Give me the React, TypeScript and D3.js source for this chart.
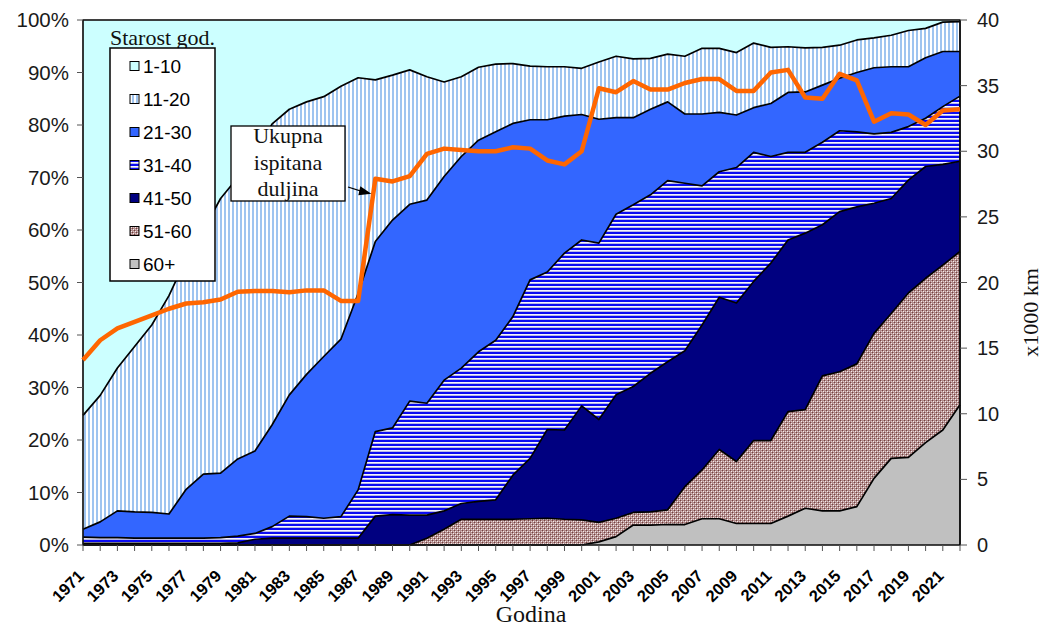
import React from "react";
import * as d3 from "d3";

// ---------- DATA ----------
const years = [
  1971, 1972, 1973, 1974, 1975, 1976, 1977, 1978, 1979, 1980,
  1981, 1982, 1983, 1984, 1985, 1986, 1987, 1988, 1989, 1990,
  1991, 1992, 1993, 1994, 1995, 1996, 1997, 1998, 1999, 2000,
  2001, 2002, 2003, 2004, 2005, 2006, 2007, 2008, 2009, 2010,
  2011, 2012, 2013, 2014, 2015, 2016, 2017, 2018, 2019, 2020,
  2021, 2022,
];

// share of tested length by age group (%)
const age60plus = [
  0, 0, 0, 0, 0, 0, 0, 0, 0, 0,
  0, 0, 0, 0, 0, 0, 0, 0, 0, 0,
  0, 0, 0, 0, 0, 0, 0, 0, 0, 0,
  0.6, 1.6, 3.8, 3.8, 3.9, 3.9, 5.0, 5.0, 4.1, 4.1,
  4.1, 5.5, 7.0, 6.5, 6.5, 7.3, 12.7, 16.5, 16.7, 19.5,
  21.9, 26.7,
];
const age51to60 = [
  0, 0, 0, 0, 0, 0, 0, 0, 0, 0,
  0, 0, 0, 0, 0, 0, 0, 0, 0, 0,
  1.3, 3.0, 4.9, 4.9, 4.9, 4.9, 5.0, 5.1, 4.9, 4.8,
  3.7, 3.5, 2.4, 2.5, 2.8, 7.2, 9.3, 13.2, 11.8, 15.8,
  15.8, 19.9, 18.8, 25.7, 26.5, 27.2, 27.6, 27.6, 31.3, 31.3,
  31.4, 29.2,
];
const age41to50 = [
  0.3, 0.3, 0.3, 0.3, 0.3, 0.3, 0.3, 0.3, 0.3, 0.4,
  1.1, 1.3, 1.3, 1.3, 1.3, 1.3, 1.3, 5.5, 5.8, 5.7,
  4.4, 3.5, 3.0, 3.4, 3.7, 8.4, 11.5, 16.9, 17.0, 21.7,
  19.6, 23.5, 24.0, 26.4, 28.2, 25.9, 27.6, 29.0, 30.2, 30.3,
  33.8, 32.7, 33.6, 28.8, 30.5, 29.9, 24.8, 21.9, 21.5, 21.3,
  19.2, 17.2,
];
const age31to40 = [
  1.2, 1.1, 1.1, 1.0, 1.0, 1.0, 1.0, 1.0, 1.1, 1.3,
  1.1, 2.2, 4.2, 4.1, 3.8, 4.1, 9.2, 16.1, 16.5, 21.7,
  21.3, 24.9, 25.8, 28.5, 30.4, 30.2, 34.0, 30.0, 33.7, 31.6,
  33.6, 34.4, 34.6, 34.0, 34.5, 31.9, 26.5, 23.9, 25.8, 24.6,
  20.3, 16.7, 15.4, 15.7, 15.4, 14.3, 13.2, 12.6, 10.2, 9.2,
  11.0, 12.4,
];
const age21to30 = [
  1.5, 3.0, 5.1, 5.0, 4.9, 4.6, 9.3, 12.2, 12.3, 14.7,
  15.7, 19.4, 23.1, 27.1, 30.8, 33.8, 37.4, 36.2, 39.6, 37.5,
  38.7, 38.8, 40.3, 40.3, 39.7, 36.8, 30.5, 29.0, 26.1, 23.9,
  23.6, 18.4, 16.6, 16.3, 15.0, 13.2, 13.7, 11.3, 10.0, 8.5,
  10.1, 11.4, 11.5, 10.9, 10.0, 11.3, 12.6, 12.5, 11.4, 11.5,
  10.5, 8.5,
];
const age11to20 = [
  21.7, 24.1, 27.2, 31.5, 35.7, 41.6, 43.9, 46.5, 52.3, 53.6,
  56.6, 57.3, 54.4, 51.9, 49.5, 48.2, 41.1, 30.8, 27.6, 25.6,
  23.5, 18.0, 15.2, 13.9, 12.9, 11.4, 10.2, 10.1, 9.4, 8.8,
  10.9, 11.7, 11.2, 9.7, 9.1, 11.0, 12.5, 12.2, 11.9, 12.3,
  10.7, 8.7, 8.4, 7.2, 6.3, 6.2, 5.7, 6.0, 6.9, 5.6,
  5.6, 5.7,
];
const age1to10 = [
  75.3, 71.5, 66.3, 62.2, 58.1, 52.5, 45.5, 40.0, 34.0, 30.0,
  25.5, 19.8, 17.0, 15.6, 14.6, 12.6, 11.0, 11.4, 10.5, 9.5,
  10.8, 11.8, 10.8, 9.0, 8.4, 8.3, 8.8, 8.9, 8.9, 9.2,
  8.0, 6.9, 7.4, 7.3, 6.5, 6.9, 5.4, 5.4, 6.2, 4.4,
  5.2, 5.1, 5.3, 5.2, 4.8, 3.8, 3.4, 2.9, 2.0, 1.6,
  0.4, 0.3,
];
// total tested length (x1000 km), right axis
const totalLength = [
  14.1, 15.6, 16.5, 17.0, 17.5, 18.0, 18.4, 18.5, 18.7, 19.3,
  19.35, 19.35, 19.25, 19.4, 19.4, 18.6, 18.6, 27.9, 27.7, 28.1,
  29.8, 30.2, 30.1, 30.0, 30.0, 30.3, 30.2, 29.3, 29.0, 30.0,
  34.8, 34.5, 35.35, 34.7, 34.7, 35.2, 35.5, 35.5, 34.6, 34.6,
  36.0, 36.2, 34.1, 34.0, 35.9, 35.4, 32.25, 32.9, 32.8, 32.0,
  33.1, 33.2,
];

const stackKeys = ["60+", "51-60", "41-50", "31-40", "21-30", "11-20", "1-10"];
const legendKeys = ["1-10", "11-20", "21-30", "31-40", "41-50", "51-60", "60+"];
const pctTicks = [0, 10, 20, 30, 40, 50, 60, 70, 80, 90, 100];
const kmTicks = [0, 5, 10, 15, 20, 25, 30, 35, 40];
const legendTitle = "Starost god.";
const annotationLines = ["Ukupna", "ispitana", "duljina"];
const annotationYear = 1988;
const xTitle = "Godina";
const yRightTitle = "x1000 km";

const seriesByKey: Record<string, number[]> = {
  "60+": age60plus,
  "51-60": age51to60,
  "41-50": age41to50,
  "31-40": age31to40,
  "21-30": age21to30,
  "11-20": age11to20,
  "1-10": age1to10,
};

const fills: Record<string, string> = {
  "60+": "#C0C0C0",
  "51-60": "url(#pat51)",
  "41-50": "#000080",
  "31-40": "url(#pat31)",
  "21-30": "#3366FF",
  "11-20": "url(#pat11)",
  "1-10": "#CCFFFF",
};

const W = 1047;
const H = 628;
const PL = 83;
const PR = 960;
const PT = 20;
const PB = 545;

const SANS = "'Liberation Sans', Arial, sans-serif";
const SERIF = "'Liberation Serif', 'Times New Roman', serif";

export default function App() {
  const x = d3.scaleLinear().domain([years[0], years[years.length - 1]]).range([PL, PR]);
  const y = d3.scaleLinear().domain([0, 100]).range([PB, PT]);
  const y2 = d3.scaleLinear().domain([0, 40]).range([PB, PT]);

  const table = years.map((yr, i) => {
    const row: any = { year: yr };
    stackKeys.forEach((k) => (row[k] = seriesByKey[k][i]));
    return row;
  });
  const stacked = d3.stack<any>().keys(stackKeys)(table);

  const area = d3
    .area<any>()
    .x((d) => x(d.data.year))
    .y0((d) => y(d[0]))
    .y1((d) => y(d[1]));
  const topLine = d3
    .line<any>()
    .x((d) => x(d.data.year))
    .y((d) => y(d[1]));
  const kmLine = d3
    .line<number>()
    .x((_, i) => x(years[i]))
    .y((d) => y2(d));

  const labelYears = years.filter((_, i) => i % 2 === 0);

  const annIdx = years.indexOf(annotationYear);
  const arrowEndX = x(annotationYear) - 4;
  const arrowEndY = y2(totalLength[annIdx]) + 15;

  return (
    <svg
      width={W}
      height={H}
      style={{ position: "absolute", left: 0, top: 0, background: "#fff" }}
    >
      <defs>
        <pattern id="pat11" width="4" height="4" patternUnits="userSpaceOnUse">
          <rect width="4" height="4" fill="#ffffff" />
          <rect width="2" height="4" fill="#9EC4F0" />
        </pattern>
        <pattern id="pat31" width="4" height="4" patternUnits="userSpaceOnUse">
          <rect width="4" height="4" fill="#F4F4FF" />
          <rect width="4" height="2" fill="#0B0BF2" />
          <rect y="3" width="4" height="1" fill="#B8B8E6" />
        </pattern>
        <pattern id="pat51" width="4" height="4" patternUnits="userSpaceOnUse">
          <rect width="4" height="4" fill="#B08A8A" />
          <rect x="0" y="0" width="1" height="1" fill="#74403F" />
          <rect x="2" y="2" width="1" height="1" fill="#74403F" />
          <rect x="1" y="1" width="1" height="1" fill="#F6EEEE" />
          <rect x="3" y="3" width="1" height="1" fill="#F6EEEE" />
          <rect x="3" y="1" width="1" height="1" fill="#DCC6C6" />
          <rect x="1" y="3" width="1" height="1" fill="#DCC6C6" />
        </pattern>
      </defs>

      {/* stacked areas */}
      {stacked.map((s) => (
        <path key={"a" + s.key} d={area(s) || ""} fill={fills[s.key]} stroke="none" />
      ))}
      {stacked.map((s) => (
        <path
          key={"l" + s.key}
          d={topLine(s) || ""}
          fill="none"
          stroke="#000"
          strokeWidth={1.7}
          strokeLinejoin="round"
        />
      ))}

      {/* plot frame */}
      <rect x={PL} y={PT} width={PR - PL} height={PB - PT} fill="none" stroke="#404040" strokeWidth={1.2} />
      <line x1={PL} x2={PL} y1={PT} y2={PB} stroke="#000" strokeWidth={1.2} />
      <line x1={PR} x2={PR} y1={PT} y2={PB} stroke="#000" strokeWidth={1.6} />
      <line x1={PL} x2={PR} y1={PB} y2={PB} stroke="#000" strokeWidth={1.2} />

      {/* left axis */}
      {pctTicks.map((t) => (
        <g key={"lp" + t}>
          <line x1={PL - 6} x2={PL} y1={y(t)} y2={y(t)} stroke="#555" strokeWidth={1} />
          <text
            x={PL - 14}
            y={y(t) + 7}
            textAnchor="end"
            fontFamily={SANS}
            fontSize={20.5}
            fill="#1a1a1a"
          >
            {t + "%"}
          </text>
        </g>
      ))}

      {/* right axis */}
      {kmTicks.map((t) => (
        <g key={"rk" + t}>
          <line x1={PR} x2={PR + 7} y1={y2(t)} y2={y2(t)} stroke="#555" strokeWidth={1} />
          <text x={PR + 17} y={y2(t) + 7} fontFamily={SANS} fontSize={20} fill="#1a1a1a">
            {t}
          </text>
        </g>
      ))}
      <text
        transform={`translate(1038, ${(PT + PB) / 2 + 30}) rotate(-90)`}
        textAnchor="middle"
        fontFamily={SERIF}
        fontSize={22}
        fill="#111"
      >
        {yRightTitle}
      </text>

      {/* x axis ticks */}
      {years.map((yr) => (
        <line key={"xt" + yr} x1={x(yr)} x2={x(yr)} y1={PB} y2={PB + 6} stroke="#555" strokeWidth={1} />
      ))}
      {labelYears.map((yr) => (
        <text
          key={"xl" + yr}
          transform={`translate(${x(yr) + 2}, ${PB + 32}) rotate(-45)`}
          textAnchor="end"
          fontFamily={SANS}
          fontWeight="bold"
          fontSize={16.5}
          fill="#000"
        >
          {yr}
        </text>
      ))}
      <text x={531} y={622} textAnchor="middle" fontFamily={SERIF} fontSize={24} fill="#111">
        {xTitle}
      </text>

      {/* total length line */}
      <path
        d={kmLine(totalLength) || ""}
        fill="none"
        stroke="#FF6600"
        strokeWidth={4.5}
        strokeLinejoin="round"
      />

      {/* legend */}
      <text x={110} y={45} fontFamily={SERIF} fontSize={22} fill="#111">
        {legendTitle}
      </text>
      <rect x={110} y={48} width={105} height={233} fill="#fff" stroke="#000" strokeWidth={1.5} />
      {legendKeys.map((k, i) => {
        const cy = 66 + i * 33;
        return (
          <g key={"lg" + k}>
            <rect x={130} y={cy - 4.5} width={9} height={9} fill={fills[k]} stroke="#000" strokeWidth={1} />
            <text x={143} y={cy + 7} fontFamily={SANS} fontSize={19} fill="#000">
              {k}
            </text>
          </g>
        );
      })}

      {/* annotation */}
      <rect x={231} y={126} width={114} height={75} fill="#fff" stroke="#000" strokeWidth={1.3} />
      {annotationLines.map((t, i) => (
        <text
          key={"an" + i}
          x={288}
          y={143 + i * 26.5}
          textAnchor="middle"
          fontFamily={SERIF}
          fontSize={22}
          fill="#111"
        >
          {t}
        </text>
      ))}
      <line x1={348} y1={187} x2={arrowEndX - 8} y2={arrowEndY - 2} stroke="#000" strokeWidth={1.3} />
      <path
        d={`M${arrowEndX},${arrowEndY} L${arrowEndX - 11},${arrowEndY - 7.5} L${arrowEndX - 13},${arrowEndY + 1.5} Z`}
        fill="#000"
      />
    </svg>
  );
}
